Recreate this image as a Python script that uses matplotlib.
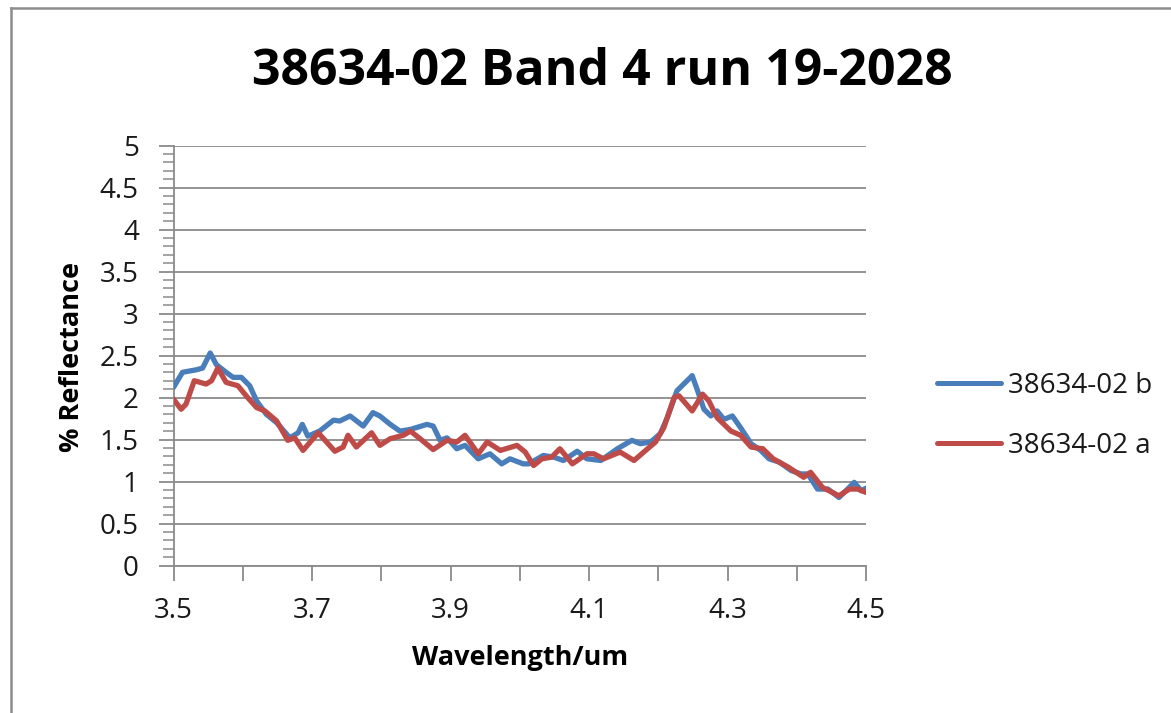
import matplotlib
matplotlib.use("Agg")
import matplotlib.pyplot as plt
from matplotlib.lines import Line2D
from matplotlib.ticker import MultipleLocator, FixedLocator

plt.rcParams['font.family'] = ['Open Sans', 'DejaVu Sans']

title = "38634-02 Band 4 run 19-2028"
xlabel = "Wavelength/um"
ylabel = "% Reflectance"
series_names = ["38634-02 b", "38634-02 a"]

wl_b = [3.500, 3.513, 3.533, 3.542, 3.553, 3.562, 3.576, 3.586, 3.598, 3.610,
        3.620, 3.634, 3.649, 3.668, 3.680, 3.686, 3.694, 3.711, 3.731, 3.740,
        3.755, 3.774, 3.788, 3.798, 3.813, 3.827, 3.842, 3.866, 3.875, 3.885,
        3.895, 3.909, 3.921, 3.940, 3.957, 3.974, 3.986, 4.005, 4.013, 4.034,
        4.049, 4.063, 4.083, 4.097, 4.117, 4.141, 4.162, 4.174, 4.189, 4.203,
        4.213, 4.227, 4.249, 4.256, 4.266, 4.276, 4.285, 4.295, 4.307, 4.319,
        4.334, 4.348, 4.360, 4.375, 4.392, 4.406, 4.416, 4.430, 4.445, 4.461,
        4.471, 4.483, 4.493, 4.500]
refl_b = [2.12, 2.30, 2.33, 2.35, 2.53, 2.39, 2.30, 2.24, 2.24, 2.14,
          1.96, 1.80, 1.70, 1.52, 1.58, 1.68, 1.54, 1.60, 1.73, 1.72,
          1.78, 1.66, 1.82, 1.78, 1.68, 1.60, 1.62, 1.68, 1.66, 1.49,
          1.52, 1.39, 1.43, 1.27, 1.33, 1.21, 1.27, 1.21, 1.21, 1.31,
          1.29, 1.25, 1.36, 1.27, 1.25, 1.39, 1.49, 1.45, 1.47, 1.57,
          1.76, 2.08, 2.26, 2.10, 1.86, 1.78, 1.84, 1.74, 1.78, 1.64,
          1.45, 1.37, 1.27, 1.23, 1.13, 1.09, 1.09, 0.91, 0.91, 0.81,
          0.89, 0.99, 0.89, 0.92]

wl_a = [3.500, 3.511, 3.518, 3.530, 3.547, 3.555, 3.564, 3.576, 3.593, 3.607,
        3.620, 3.632, 3.649, 3.665, 3.675, 3.687, 3.709, 3.733, 3.745, 3.752,
        3.764, 3.786, 3.798, 3.813, 3.832, 3.842, 3.856, 3.875, 3.895, 3.909,
        3.921, 3.940, 3.953, 3.972, 3.996, 4.008, 4.020, 4.032, 4.046, 4.058,
        4.076, 4.097, 4.107, 4.121, 4.145, 4.165, 4.179, 4.196, 4.208, 4.223,
        4.230, 4.249, 4.264, 4.273, 4.285, 4.305, 4.319, 4.334, 4.351, 4.366,
        4.388, 4.410, 4.420, 4.437, 4.461, 4.476, 4.488, 4.500]
refl_a = [1.98, 1.86, 1.92, 2.20, 2.16, 2.20, 2.35, 2.18, 2.14, 2.00,
          1.88, 1.84, 1.72, 1.49, 1.52, 1.37, 1.58, 1.36, 1.41, 1.55,
          1.41, 1.58, 1.43, 1.51, 1.55, 1.60, 1.51, 1.38, 1.49, 1.47,
          1.55, 1.33, 1.47, 1.37, 1.43, 1.35, 1.19, 1.27, 1.29, 1.39,
          1.21, 1.33, 1.33, 1.27, 1.35, 1.25, 1.35, 1.47, 1.64, 2.00,
          2.02, 1.84, 2.04, 1.96, 1.76, 1.60, 1.55, 1.41, 1.39, 1.27,
          1.17, 1.05, 1.11, 0.93, 0.83, 0.91, 0.91, 0.87]

xtick_labels = ["3.5", "3.7", "3.9", "4.1", "4.3", "4.5"]
ytick_labels = ["0", "0.5", "1", "1.5", "2", "2.5", "3", "3.5", "4", "4.5", "5"]

W, H = 1171, 713
fig = plt.figure(figsize=(W / 100, H / 100), dpi=100)
fig.patch.set_facecolor("white")

# chart-area border (left and top visible)
grey = "#8c8c8c"
fig.add_artist(Line2D([10.5 / W, 10.5 / W], [0, 1 - 7.5 / H], transform=fig.transFigure,
                      color=grey, lw=1.8))
fig.add_artist(Line2D([10.5 / W, 1], [1 - 7.5 / H, 1 - 7.5 / H], transform=fig.transFigure,
                      color=grey, lw=1.8))

ax = fig.add_axes([173.5 / W, 1 - 565.5 / H, (866 - 173.5) / W, (565.5 - 145.5) / H])

blue = "#4A7EBB"
red = "#BE4B48"
colors = [blue, red]
lines = []
lines.append(ax.plot(wl_b, refl_b, color=blue, lw=3.8, solid_joinstyle="round",
                     solid_capstyle="round", label=series_names[0], zorder=3)[0])
lines.append(ax.plot(wl_a, refl_a, color=red, lw=3.8, solid_joinstyle="round",
                     solid_capstyle="round", label=series_names[1], zorder=4)[0])

ax.set_xlim(3.5, 4.5)
ax.set_ylim(0, 5)

xt = [3.5 + 0.2 * i for i in range(len(xtick_labels))]
ax.xaxis.set_major_locator(FixedLocator(xt))
ax.set_xticklabels(xtick_labels)
ax.xaxis.set_minor_locator(MultipleLocator(0.1))
yt = [0.5 * i for i in range(len(ytick_labels))]
ax.yaxis.set_major_locator(FixedLocator(yt))
ax.set_yticklabels(ytick_labels)
ax.yaxis.set_minor_locator(MultipleLocator(0.1))

ax.grid(axis="y", which="major", color="#8a8a8a", lw=1.3)
ax.set_axisbelow(True)
for s in ["top", "right"]:
    ax.spines[s].set_visible(False)
for s in ["left", "bottom"]:
    ax.spines[s].set_color("#8a8a8a")
    ax.spines[s].set_linewidth(1.3)

ax.tick_params(axis="x", which="both", direction="out", length=11, width=1.3,
               color="#8a8a8a", labelsize=20, pad=12, labelcolor="#1a1a1a")
ax.tick_params(axis="y", which="major", direction="out", length=11, width=1.3,
               color="#8a8a8a", labelsize=20, pad=14, labelcolor="#1a1a1a")
ax.tick_params(axis="y", which="minor", direction="out", length=8, width=1.1,
               color="#8a8a8a")

fig.text(602 / W, 1 - 72 / H, title, ha="center", va="center",
         fontsize=36, fontweight="bold", color="black")
fig.text(520 / W, 1 - 658 / H, xlabel, ha="center", va="center",
         fontsize=19.5, fontweight="bold", color="black")
fig.text(72 / W, 1 - 357 / H, ylabel, ha="center", va="center", rotation=90,
         fontsize=19.5, fontweight="bold", color="black")

# legend (right of plot), entries drawn as in the reference
legend_rows_y = [383, 443]
for name, col, ly in zip(series_names, colors, legend_rows_y):
    yf = 1 - ly / H
    fig.add_artist(Line2D([937 / W, 1001 / W], [yf, yf], transform=fig.transFigure,
                          color=col, lw=3.6, solid_capstyle="round"))
    fig.text(1008 / W, yf, name, ha="left", va="center_baseline", fontsize=20,
             color="#1a1a1a")

fig.savefig("out.png", dpi=100, facecolor="white")
